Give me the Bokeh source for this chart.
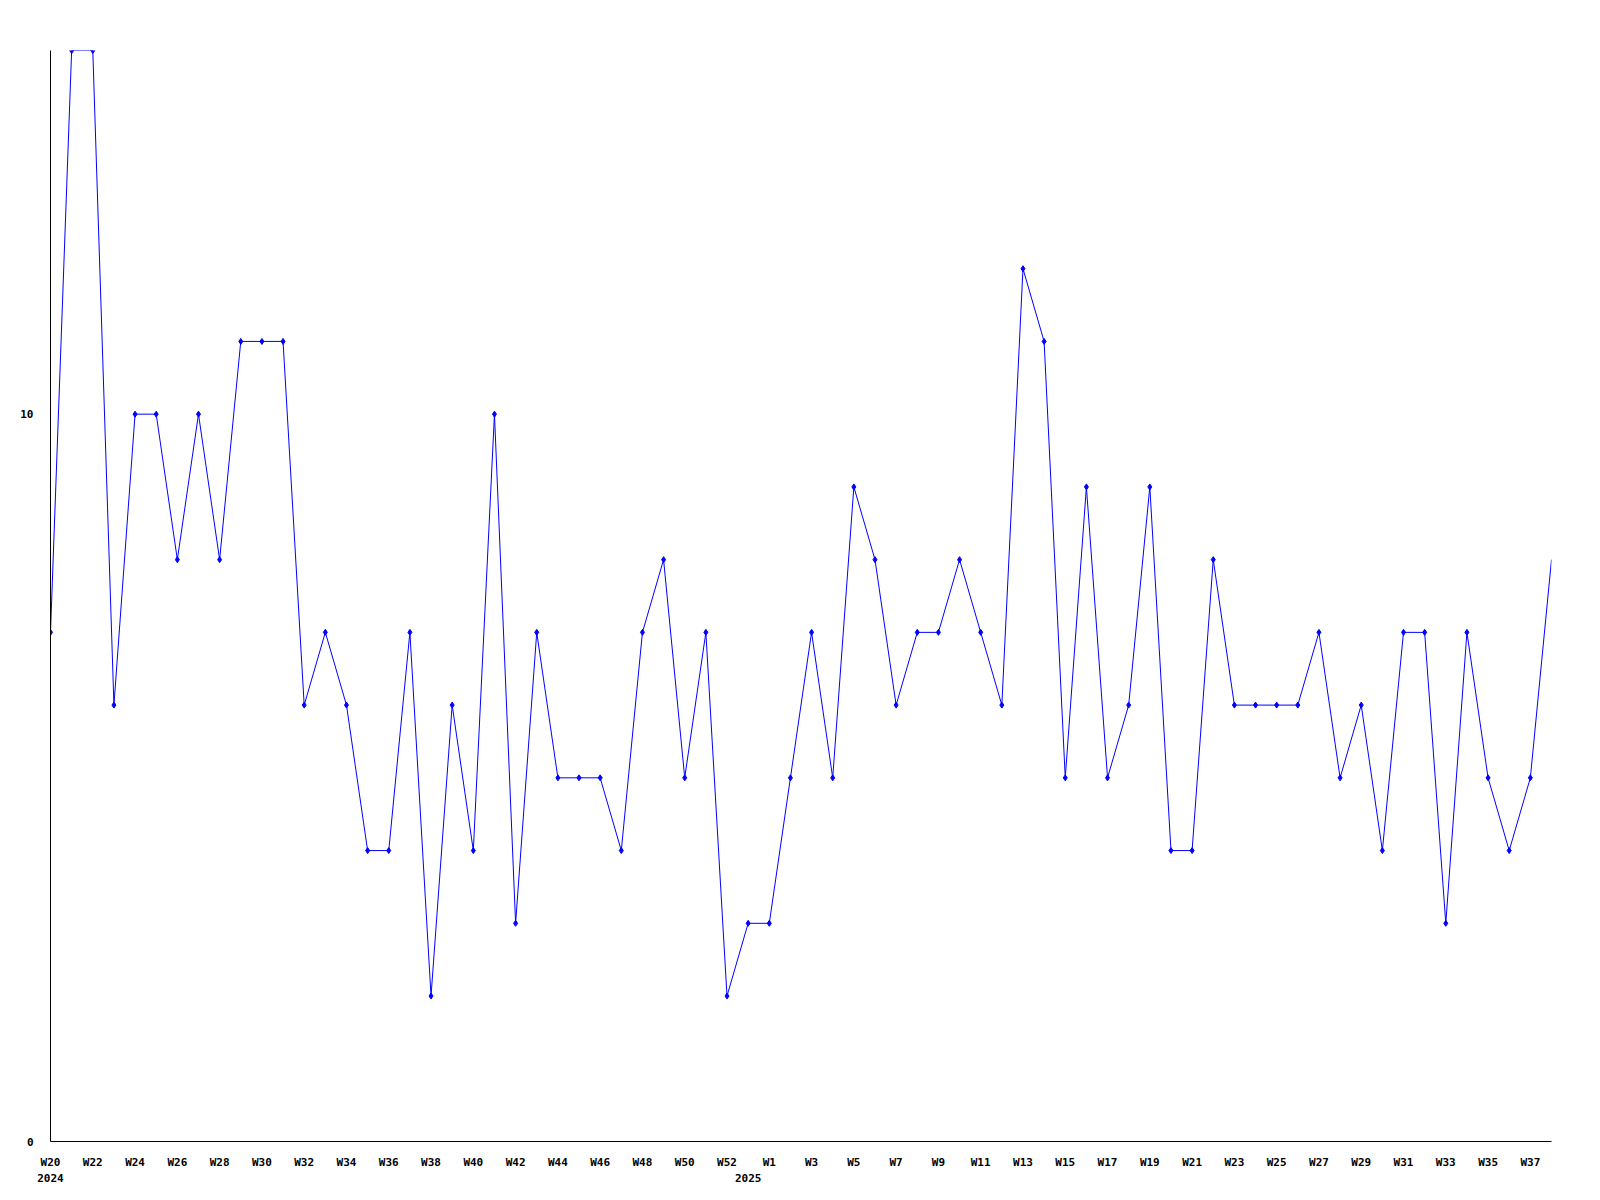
from bokeh.plotting import figure
from bokeh.models import Range1d, FixedTicker, LinearAxis, ColumnDataSource
from bokeh.embed import file_html
from bokeh.resources import INLINE

# ---- data ----
weeks_2024 = [f"W{i}" for i in range(20, 53)]   # W20..W52
weeks_2025 = [f"W{i}" for i in range(0, 39)]    # W0..W38
weeks = weeks_2024 + weeks_2025
years = ["2024"] * len(weeks_2024) + ["2025"] * len(weeks_2025)

values_2024 = [7, 15, 15, 6, 10, 10, 8, 10, 8, 11,
               11, 11, 6, 7, 6, 4, 4, 7, 2, 6,
               4, 10, 3, 7, 5, 5, 5, 4, 7, 8,
               5, 7, 2]
values_2025 = [3,
               3, 5, 7, 5, 9, 8, 6, 7, 7, 8,
               7, 6, 12, 11, 5, 9, 5, 6, 9, 4,
               4, 8, 6, 6, 6, 6, 7, 5, 6, 4,
               7, 7, 3, 7, 5, 4, 5, 8]
values = values_2024 + values_2025

y_ticks = [0, 10]
y_max = 15

idx = list(range(len(values)))
src = ColumnDataSource(dict(x=idx, y=values))
mk = ColumnDataSource(dict(x=idx[:-1], y=values[:-1]))

FONT = "DejaVu Sans Mono"

p = figure(width=1592, height=1192, output_backend="svg", toolbar_location=None,
           x_range=Range1d(0, len(values) - 1), y_range=Range1d(0, y_max),
           min_border_left=50, min_border_top=50, min_border_right=41, min_border_bottom=51,
           x_axis_type=None, y_axis_type=None)
p.outline_line_color = None
p.background_fill_color = "white"
p.border_fill_color = "white"

# y axis
yax = LinearAxis(ticker=FixedTicker(ticks=y_ticks))
yax.axis_line_color = "black"
yax.major_tick_line_color = None
yax.minor_tick_line_color = None
yax.major_tick_in = 0
yax.major_tick_out = 0
yax.major_label_standoff = 17
yax.major_label_text_font = FONT
yax.major_label_text_font_style = "bold"
yax.major_label_text_font_size = "11px"
yax.major_label_text_color = "black"
p.add_layout(yax, "left")

# x axis (weeks)
tick_idx = idx[::2]
xax = LinearAxis(ticker=FixedTicker(ticks=tick_idx))
xax.major_label_overrides = {i: weeks[i] for i in tick_idx}
xax.axis_line_color = "black"
xax.major_tick_line_color = None
xax.minor_tick_line_color = None
xax.major_tick_in = 0
xax.major_tick_out = 0
xax.major_label_standoff = 14
xax.major_label_text_font = FONT
xax.major_label_text_font_style = "bold"
xax.major_label_text_font_size = "11px"
xax.major_label_text_color = "black"
p.add_layout(xax, "below")

# year axis
year_idx = [i for i in idx if i == 0 or years[i] != years[i - 1]]
yrax = LinearAxis(ticker=FixedTicker(ticks=year_idx))
yrax.major_label_overrides = {i: years[i] for i in year_idx}
yrax.axis_line_color = None
yrax.major_tick_line_color = None
yrax.minor_tick_line_color = None
yrax.major_tick_in = 0
yrax.major_tick_out = 0
yrax.major_label_standoff = 2
yrax.major_label_text_font = FONT
yrax.major_label_text_font_style = "bold"
yrax.major_label_text_font_size = "11px"
yrax.major_label_text_color = "black"
p.add_layout(yrax, "below")

# grid
p.xgrid.visible = False
p.ygrid.ticker = FixedTicker(ticks=y_ticks)
p.ygrid.grid_line_color = "black"
p.ygrid.grid_line_width = 1

p.line("x", "y", source=src, line_color="#0000ff", line_width=1)
p.scatter("x", "y", source=mk, marker="diamond", size=6,
          fill_color="#0000ff", line_color="#0000ff")

open("out.html", "w").write(file_html(p, INLINE))
